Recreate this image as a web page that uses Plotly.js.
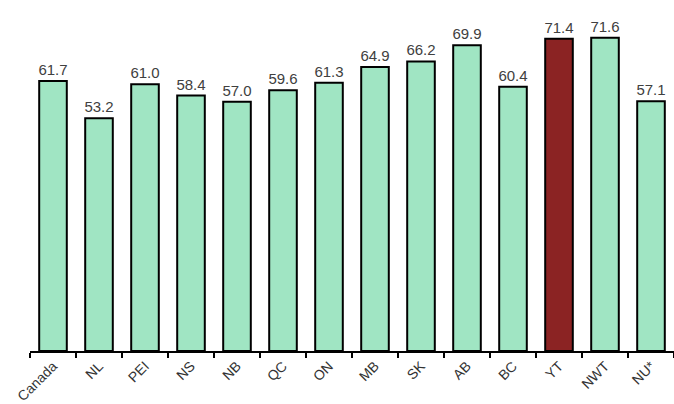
<!DOCTYPE html>
<html><head><meta charset="utf-8">
<script src="https://cdn.plot.ly/plotly-3.0.1.min.js"></script>
<style>body{margin:0;background:#fff}</style>
</head><body>
<div id="chart" style="width:674px;height:404px"></div>
<script>
var categories = ["Canada","NL","PEI","NS","NB","QC","ON","MB","SK","AB","BC","YT","NWT","NU*"];
var values = [61.7,53.2,61.0,58.4,57.0,59.6,61.3,64.9,66.2,69.9,60.4,71.4,71.6,57.1];
var highlight = "YT";
var colors = categories.map(function(c){ return c === highlight ? "#8b2323" : "#a0e5c3"; });

Plotly.newPlot("chart", [{
  type: "bar",
  x: categories,
  y: values,
  width: 0.6,
  marker: {color: colors, line: {color: "#000", width: 2}},
  text: values.map(function(v){ return v.toFixed(1); }),
  textposition: "outside",
  constraintext: "none",
  cliponaxis: false,
  textfont: {family: "Liberation Sans, Arial, sans-serif", size: 15, color: "#404040"},
  hoverinfo: "none"
}], {
  width: 674, height: 404,
  margin: {l: 30, r: 0, t: 1, b: 53},
  paper_bgcolor: "#fff", plot_bgcolor: "#fff",
  showlegend: false,
  xaxis: {
    type: "category",
    tickangle: -45,
    tickson: "boundaries",
    ticks: "outside", ticklen: 5, tickwidth: 1.5, tickcolor: "#000",
    showline: true, linecolor: "#000", linewidth: 1.5,
    tickfont: {family: "Liberation Sans, Arial, sans-serif", size: 14, color: "#333"},
    showgrid: false, zeroline: false, fixedrange: true
  },
  yaxis: {
    range: [0, 80], visible: false, showgrid: false, zeroline: false, fixedrange: true
  }
}, {displayModeBar: false, staticPlot: true});
</script>
</body></html>
